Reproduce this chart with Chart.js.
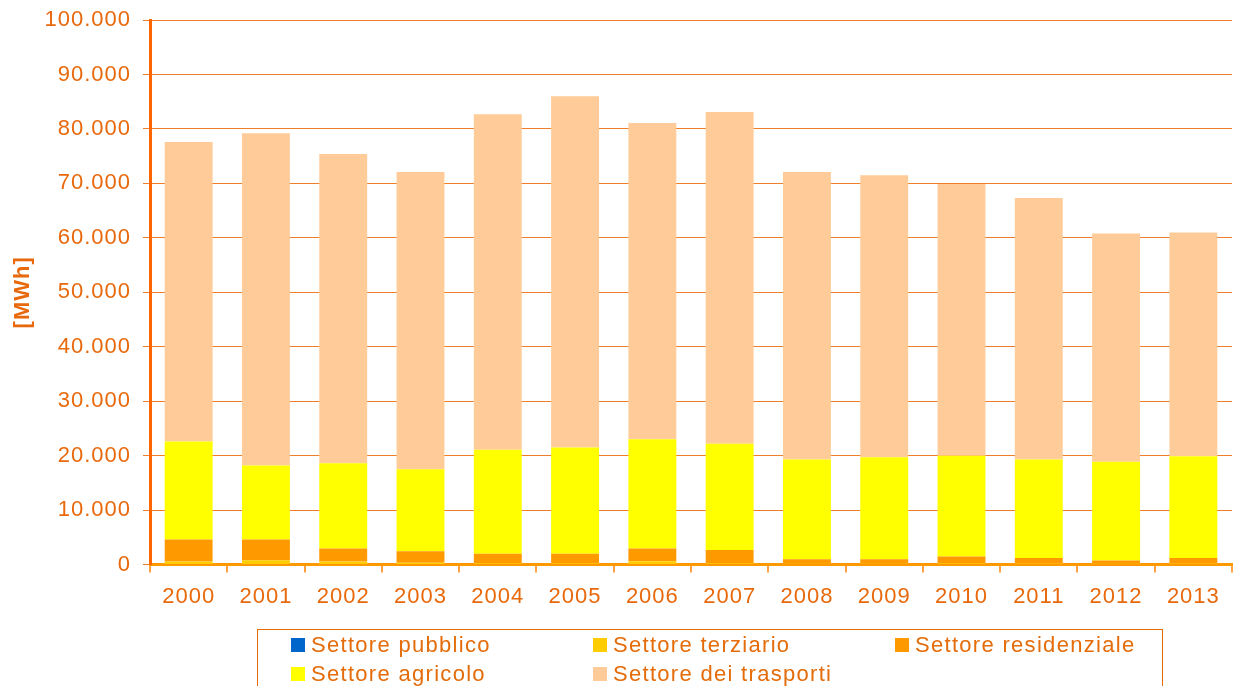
<!DOCTYPE html>
<html>
<head>
<meta charset="utf-8">
<script src="https://cdn.jsdelivr.net/npm/chart.js@4.4.1/dist/chart.umd.min.js"></script>
<style>
  body { margin: 0; background: #fff; }
  #wrap { position: absolute; left: 0; top: 0; width: 1234px; height: 686px; }
  #legend {
    position: absolute; left: 257px; top: 629px; width: 906px; height: 70px;
    border: 1px solid #e46c0a; box-sizing: border-box;
    font-family: "Liberation Sans", Arial, sans-serif; font-size: 22px; color: #e46c0a;
    letter-spacing: 1.3px;
  }
  .sw { position: absolute; width: 14px; height: 14px; }
  .txt { position: absolute; white-space: nowrap; line-height: 22px; }
</style>
</head>
<body>
<div id="wrap"><canvas id="graph" width="1234" height="686"></canvas></div>
<div id="legend"></div>
<script>
const anni = ["2000","2001","2002","2003","2004","2005","2006","2007","2008","2009","2010","2011","2012","2013"];
const pubblico     = [100, 100, 100, 100, 100, 100, 100, 100, 100, 100, 100, 100, 100, 100];
const terziario    = [450, 700, 450, 250, 150, 150, 500, 150, 50, 50, 150, 100, 50, 100];
const residenziale = [4050, 3800, 2400, 2100, 1750, 1750, 2350, 2450, 850, 850, 1250, 1000, 600, 1000];
const agricolo     = [18000, 13600, 15650, 15050, 19100, 19500, 20050, 19500, 18300, 18700, 18500, 18100, 18150, 18700];
const trasporti    = [55000, 61000, 56800, 54600, 61600, 64500, 58100, 60900, 52800, 51800, 49900, 48000, 41900, 41100];

const serie = [
  { label: "Settore pubblico", data: pubblico, color: "#0066cc" },
  { label: "Settore terziario", data: terziario, color: "#ffcc00" },
  { label: "Settore residenziale", data: residenziale, color: "#ff9900" },
  { label: "Settore agricolo", data: agricolo, color: "#ffff00" },
  { label: "Settore dei trasporti", data: trasporti, color: "#ffcc99" }
];

const arancio = "#e8690c";
const font = { family: "'Liberation Sans', Arial, sans-serif", size: 22 };

// testo un po' allargato come nell'originale
const spaziatura = {
  id: "spaziatura",
  beforeLayout(chart) { chart.ctx.letterSpacing = "1px"; },
  beforeDraw(chart) { chart.ctx.letterSpacing = "1px"; }
};

new Chart(document.getElementById("graph"), {
  type: "bar",
  data: {
    labels: anni,
    datasets: serie.map(s => ({
      label: s.label, data: s.data, backgroundColor: s.color,
      borderWidth: 0, barPercentage: 0.62, categoryPercentage: 1
    }))
  },
  options: {
    responsive: false,
    animation: false,
    layout: { padding: { top: 20, right: 2, bottom: 65, left: 0 } },
    plugins: { legend: { display: false }, tooltip: { enabled: false } },
    scales: {
      x: {
        stacked: true,
        grid: { offset: true, drawOnChartArea: false, color: "#ffa040", tickLength: 8, lineWidth: 2 },
        border: { color: "#ff9900", width: 3 },
        ticks: { color: arancio, font: font, padding: 11 }
      },
      y: {
        stacked: true, min: 0, max: 100000,
        afterFit: s => { s.width = 150; s.paddingTop = 0; },
        grid: { color: "#f07d28", lineWidth: 1, tickLength: 7 },
        border: { color: "#ff6600", width: 3 },
        ticks: {
          stepSize: 10000, color: arancio, font: font, padding: 12,
          callback: v => v.toLocaleString("it-IT")
        },
        title: {
          display: true, text: "[MWh]", color: arancio,
          font: { family: font.family, size: 22, weight: "bold" }, padding: { top: 10, bottom: 0 }
        }
      }
    }
  },
  plugins: [spaziatura]
});

// legenda
const pos = [[33, 8], [335, 8], [637, 8], [33, 37], [335, 37]];
const leg = document.getElementById("legend");
serie.forEach((s, i) => {
  const q = document.createElement("div");
  q.className = "sw";
  q.style.left = pos[i][0] + "px";
  q.style.top = pos[i][1] + "px";
  q.style.background = s.color;
  leg.appendChild(q);
  const t = document.createElement("div");
  t.className = "txt";
  t.style.left = (pos[i][0] + 20) + "px";
  t.style.top = (pos[i][1] - 4) + "px";
  t.textContent = s.label;
  leg.appendChild(t);
});
</script>
</body>
</html>
